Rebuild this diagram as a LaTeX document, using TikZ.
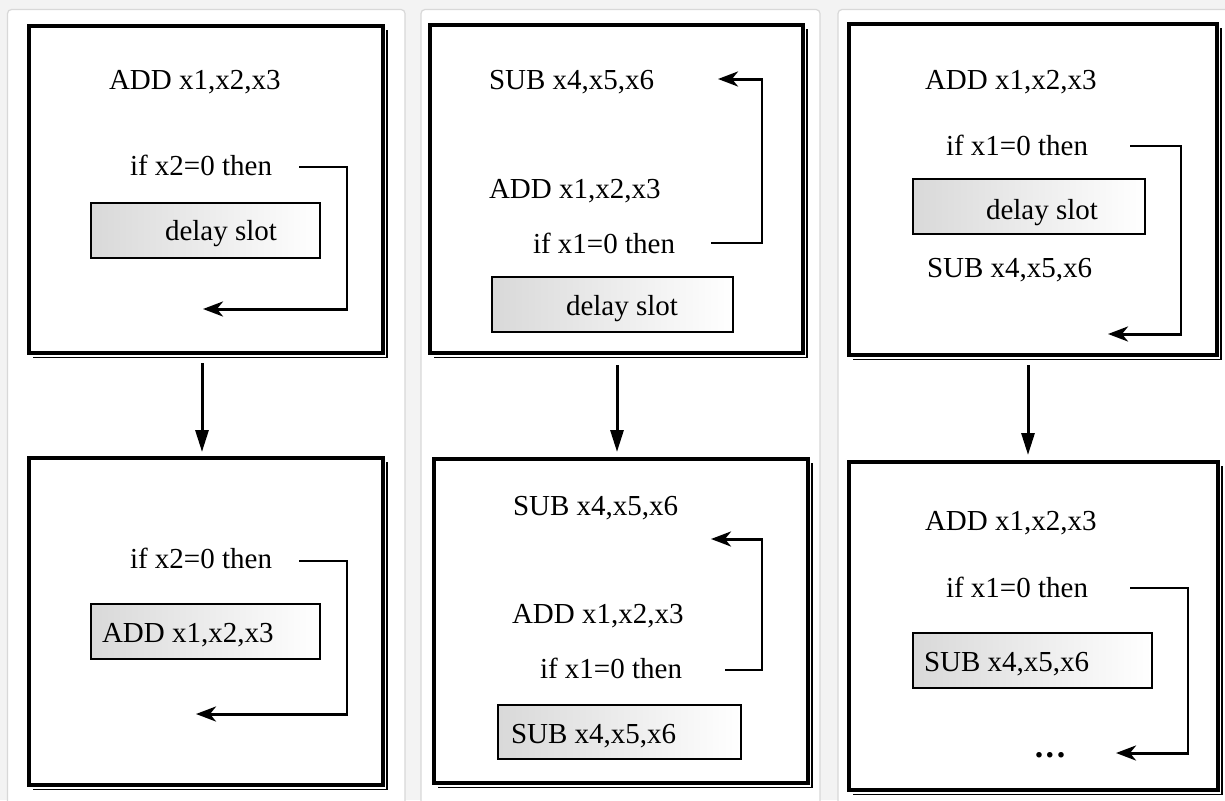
\documentclass[tikz,border=0pt]{standalone}
\usepackage{fontspec}
\setmainfont{Liberation Serif}
\usetikzlibrary{arrows.meta,fit}
\definecolor{bgc}{RGB}{243,243,243}
\definecolor{panelline}{RGB}{216,216,216}
\begin{document}
\begin{tikzpicture}[x=1pt,y=-1pt,
  every node/.style={font=\fontsize{29}{34}\selectfont, inner sep=0pt, outer sep=0pt},
  panel/.style={draw=panelline, fill=white, line width=1.2pt, rounded corners=4pt},
  bigbox/.style={draw, line width=3.5pt, fill=white},
  shadowline/.style={line width=1.5pt, line join=miter},
  graybox/.style={draw, line width=2.4pt, left color=black!15, right color=white},
  txt/.style={anchor=base west},
  ctxt/.style={anchor=base},
  connthin/.style={line width=2pt},
  conn/.style={line width=3pt, -{Stealth[length=20pt,width=15pt,inset=6pt]}},
  bigarrow/.style={line width=3pt, -{Triangle[length=22pt,width=13pt]}}]
\useasboundingbox (0,0) rectangle (1225,800);
\fill[bgc] (0,0) rectangle (1225,800);
% panels
\draw[panel] (7.5,9.5) rectangle (405,815);
\draw[panel] (421,9.5) rectangle (820,815);
\draw[panel] (838,9.5) rectangle (1240,815);

% ===== Panel 1 =====
\node[bigbox, fit={(29,26) (383,353)}] (b1) {};
\draw[shadowline] ([xshift=4pt,yshift=-4.5pt]b1.south west) -| ([xshift=4pt,yshift=-4pt]b1.north east);
\node[txt] (t1a) at (109,89) {ADD x1,x2,x3};
\node[txt] (t1b) at (130,175) {if x2=0 then};
\node[graybox, fit={(91,203) (320,258)}] (g1) {};
\node[ctxt] (g1t) at (221,240) {delay slot};
\coordinate (c1s) at (299,167);
\coordinate (c1a) at (347,167);
\coordinate (c1b) at (347,309);
\coordinate (c1e) at (203,309);
\draw[connthin, line join=miter] (c1s) -- (c1a) -- (c1b);
\draw[conn] ([xshift=1pt]c1b) -- (c1e);

\node[bigbox, fit={(29,458) (383,785)}] (b2) {};
\draw[shadowline] ([xshift=4pt,yshift=-4.5pt]b2.south west) -| ([xshift=4pt,yshift=-4pt]b2.north east);
\node[txt] (t2b) at (130,568) {if x2=0 then};
\node[graybox, fit={(91,604) (320,659)}] (g2) {};
\node[txt] (g2t) at (102,642) {ADD x1,x2,x3};
\coordinate (c2s) at (299,561);
\coordinate (c2a) at (347,561);
\coordinate (c2b) at (347,714);
\coordinate (c2e) at (196,714);
\draw[connthin] (c2s) -- (c2a) -- (c2b);
\draw[conn] ([xshift=1pt]c2b) -- (c2e);
\draw[bigarrow] ([xshift=-4pt,yshift=-10pt]b1.south) -- ([xshift=-4pt,yshift=6pt]b2.north);

% ===== Panel 2 =====
\node[bigbox, fit={(430,25) (803,353)}] (b3) {};
\draw[shadowline] ([xshift=4pt,yshift=-4.5pt]b3.south west) -| ([xshift=4pt,yshift=-4pt]b3.north east);
\node[txt] (t3a) at (489,89) {SUB x4,x5,x6};
\node[txt] (t3b) at (489,198) {ADD x1,x2,x3};
\node[txt] (t3c) at (533,253) {if x1=0 then};
\node[graybox, fit={(492,277) (733,332)}] (g3) {};
\node[ctxt] (g3t) at (622,315) {delay slot};
\coordinate (c3s) at (711,243);
\coordinate (c3a) at (762,243);
\coordinate (c3b) at (762,79);
\coordinate (c3e) at (718,79);
\draw[connthin] (c3s) -- (c3a) -- (c3b);
\draw[conn] ([xshift=1pt]c3b) -- (c3e);

\node[bigbox, fit={(434,459) (808,783)}] (b4) {};
\draw[shadowline] ([xshift=4pt,yshift=-4.5pt]b4.south west) -| ([xshift=4pt,yshift=-4pt]b4.north east);
\node[txt] (t4a) at (513,515) {SUB x4,x5,x6};
\node[txt] (t4b) at (512,623) {ADD x1,x2,x3};
\node[txt] (t4c) at (540,678) {if x1=0 then};
\node[graybox, fit={(498,705) (741,759)}] (g4) {};
\node[txt] (g4t) at (511,743) {SUB x4,x5,x6};
\coordinate (c4s) at (725,670);
\coordinate (c4a) at (762,670);
\coordinate (c4b) at (762,539);
\coordinate (c4e) at (711,539);
\draw[connthin] (c4s) -- (c4a) -- (c4b);
\draw[conn] ([xshift=1pt]c4b) -- (c4e);
\draw[bigarrow] ([xshift=0.5pt,yshift=-12pt]b3.south) -- ([xshift=-4pt,yshift=7pt]b4.north);

% ===== Panel 3 =====
\node[bigbox, fit={(849,24) (1217,355)}] (b5) {};
\draw[shadowline] ([xshift=4pt,yshift=-4.5pt]b5.south west) -| ([xshift=4pt,yshift=-4pt]b5.north east);
\node[txt] (t5a) at (925,89) {ADD x1,x2,x3};
\node[txt] (t5b) at (946,155) {if x1=0 then};
\node[graybox, fit={(913,179) (1145,234)}] (g5) {};
\node[ctxt] (g5t) at (1042,219) {delay slot};
\node[txt] (t5c) at (927,277) {SUB x4,x5,x6};
\coordinate (c5s) at (1130,146);
\coordinate (c5a) at (1181,146);
\coordinate (c5b) at (1181,334);
\coordinate (c5e) at (1108,334);
\draw[connthin] (c5s) -- (c5a) -- (c5b);
\draw[conn] ([xshift=1pt]c5b) -- (c5e);

\node[bigbox, fit={(849,462) (1218,790)}] (b6) {};
\draw[shadowline] ([xshift=4pt,yshift=-4.5pt]b6.south west) -| ([xshift=4pt,yshift=-4pt]b6.north east);
\node[txt] (t6a) at (925,530) {ADD x1,x2,x3};
\node[txt] (t6b) at (946,597) {if x1=0 then};
\node[graybox, fit={(913,633) (1152,688)}] (g6) {};
\node[txt] (g6t) at (924,671) {SUB x4,x5,x6};
\node[ctxt, font=\fontsize{34}{38}\selectfont\bfseries] (t6c) at (1050,757) {.\kern2.5pt.\kern2.5pt.};
\coordinate (c6s) at (1130,588);
\coordinate (c6a) at (1188,588);
\coordinate (c6b) at (1188,753);
\coordinate (c6e) at (1116,753);
\draw[connthin] (c6s) -- (c6a) -- (c6b);
\draw[conn] ([xshift=1pt]c6b) -- (c6e);
\draw[bigarrow] ([xshift=-5pt,yshift=-10pt]b5.south) -- ([xshift=-5.5pt,yshift=7pt]b6.north);
\end{tikzpicture}
\end{document}
